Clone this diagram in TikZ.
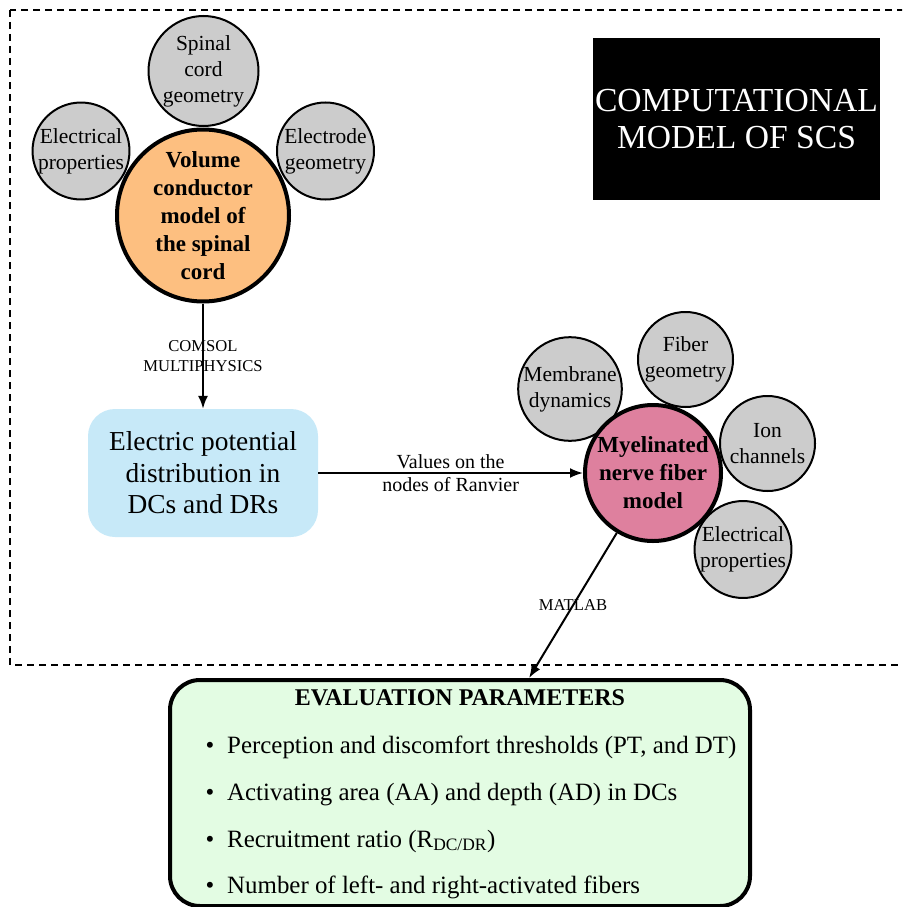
\documentclass[tikz,border=0pt]{standalone}
\usepackage{fontspec}
\setmainfont{Liberation Serif}
\usetikzlibrary{arrows.meta}
\definecolor{orangefill}{RGB}{253,191,128}
\definecolor{pinkfill}{RGB}{222,128,158}
\definecolor{bluefill}{RGB}{199,233,248}
\definecolor{greenfill}{RGB}{227,252,227}
\definecolor{grayfill}{RGB}{204,204,204}
\begin{document}
\begin{tikzpicture}[x=1pt,y=-1pt,
  subcirc/.style={circle, draw, line width=2pt, fill=grayfill, inner sep=0pt,
    align=center, font=\fontsize{21.5}{26}\selectfont},
  maincirc/.style={circle, draw, line width=4pt, inner sep=0pt,
    align=center, font=\fontsize{23}{28}\selectfont\bfseries},
  conn/.style={line width=2pt, -{Latex[length=13pt,width=10pt]}},
  edgelbl/.style={align=center, inner sep=0pt},
  bulletline/.style={anchor=base west, inner sep=0pt, font=\fontsize{24.9}{30}\selectfont},
]
\useasboundingbox (0,0) rectangle (902,907);
\begin{scope}
\clip (0,0) rectangle (902,907);

% dashed frame around the computational model
\draw[line width=2pt, dash pattern=on 7pt off 5pt] (10,10) rectangle (960,665);

% title block
\node[fill=black, text=white, minimum width=287pt, minimum height=162pt, inner sep=0pt,
  align=center, font=\fontsize{33.6}{37.5}\selectfont] (title) at (736.5,119)
  {COMPUTATIONAL\\MODEL OF SCS};

% inputs of the volume conductor model
\node[subcirc, minimum size=110pt] (spinal) at (203.5,71) {Spinal\\cord\\geometry};
\node[subcirc, minimum size=96pt] (elprop1) at (81,151) {Electrical\\properties};
\node[subcirc, minimum size=97pt] (electrode) at (325.5,151) {Electrode\\geometry};
\node[maincirc, fill=orangefill, minimum size=172pt] (volume) at (203,215.5)
  {Volume\\conductor\\model of\\the spinal\\cord};

% potential distribution
\node[fill=bluefill, rounded corners=27pt, minimum width=230pt, minimum height=128pt,
  inner sep=0pt, align=center, font=\fontsize{27.4}{31.5}\selectfont] (potential) at (203,473)
  {Electric potential\\distribution in\\DCs and DRs};

% inputs of the nerve fiber model
\node[subcirc, minimum size=96pt] (membrane) at (570,389) {Membrane\\dynamics};
\node[subcirc, minimum size=95pt] (fibergeo) at (685.5,359.5) {Fiber\\geometry};
\node[subcirc, minimum size=95pt] (ion) at (767.5,443.5) {Ion\\channels};
\node[subcirc, minimum size=96pt] (elprop2) at (743,549.5) {Electrical\\properties};
\node[maincirc, fill=pinkfill, minimum size=136pt] (fiber) at (653,473)
  {Myelinated\\nerve fiber\\model};

% evaluation parameters
\node[draw, line width=4pt, fill=greenfill, rounded corners=30pt, minimum width=580pt,
  minimum height=226pt, inner sep=0pt] (eval) at (460,793) {};
\node[font=\fontsize{24}{29}\selectfont\bfseries, inner sep=0pt] (evaltitle) at (460,698)
  {EVALUATION PARAMETERS};
\node[bulletline] (item1) at (205.5,753)
  {\textbullet\hspace{12.8pt}Perception and discomfort thresholds (PT, and DT)};
\node[bulletline] (item2) at (205.5,800)
  {\textbullet\hspace{12.8pt}Activating area (AA) and depth (AD) in DCs};
\node[bulletline] (item3) at (205.5,847)
  {\textbullet\hspace{12.8pt}Recruitment ratio (R\textsubscript{DC/DR})};
\node[bulletline] (item4) at (205.5,893)
  {\textbullet\hspace{12.8pt}Number of left- and right-activated fibers};

% connectors
\draw[conn] (volume) -- node[edgelbl, font=\fontsize{16.6}{19.5}\selectfont]
  {COMSOL\\MULTIPHYSICS} (potential);
\draw[conn] (potential) -- node[edgelbl, font=\fontsize{20}{23}\selectfont]
  {Values on the\\nodes of Ranvier} (fiber);
\draw[conn] (fiber) -- node[edgelbl, font=\fontsize{16.6}{19.5}\selectfont]
  {MATLAB} (eval);
\end{scope}
\end{tikzpicture}
\end{document}
